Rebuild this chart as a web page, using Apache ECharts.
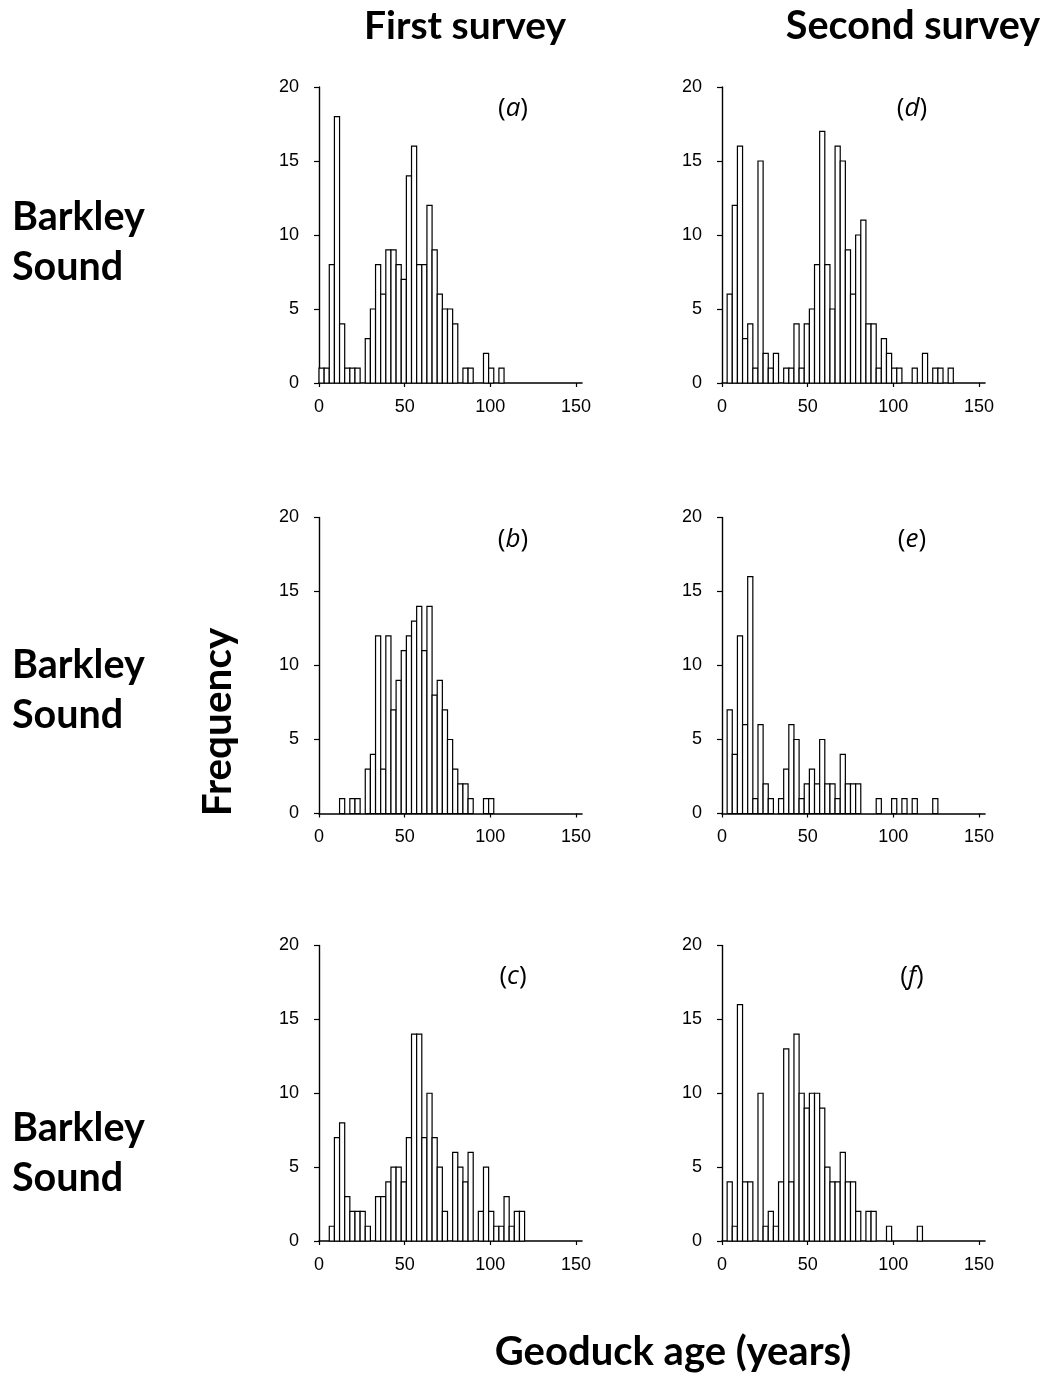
<!DOCTYPE html>
<html>
<head>
<meta charset="utf-8">
<script src="https://cdn.jsdelivr.net/npm/echarts@6/dist/echarts.min.js"></script>
<style>html,body{margin:0;padding:0;background:#fff}#c{width:1044px;height:1376px}</style>
</head>
<body>
<div id="c"></div>
<script>
// ---- data: counts per 3-year age bin, starting at age 0 ----
const binWidth = 3;
const xTicks = [0, 50, 100, 150];
const yTicks = [0, 5, 10, 15, 20];
const countsA = [1,1,8,18,4,1,1,1,0,3,5,8,6,9,9,8,7,14,16,8,8,12,9,6,5,5,4,0,1,1,0,0,2,1,0,1];
const countsB = [0,0,0,0,1,0,1,1,0,3,4,12,3,12,7,9,11,12,13,14,11,14,8,9,7,5,3,2,2,1,0,0,1,1];
const countsC = [0,0,1,7,8,3,2,2,2,1,0,3,3,4,5,5,4,7,14,14,7,10,7,5,2,0,6,5,4,6,0,2,5,2,1,1,3,1,2,2];
const countsD = [0,6,12,16,3,4,1,15,2,1,2,0,1,1,4,1,4,5,8,17,8,5,16,15,9,6,10,11,4,4,1,3,2,1,1,0,0,1,0,2,0,1,1,0,1];
const countsE = [0,7,4,12,6,16,1,6,2,1,0,1,3,6,5,1,2,3,2,5,2,2,1,4,2,2,2,0,0,0,1,0,0,1,0,1,0,1,0,0,0,1];
const countsF = [0,4,1,16,4,4,0,10,1,2,1,4,13,4,14,10,9,10,10,9,5,4,4,6,4,4,2,0,2,2,0,0,1,0,0,0,0,0,1];
const panelLetters = ['a','b','c','d','e','f'];
const panelCounts = [countsA, countsB, countsC, countsD, countsE, countsF];
const colTitles = ['First survey', 'Second survey'];
const rowTitle = 'Barkley\nSound';
const yName = 'Frequency';
const xName = 'Geoduck age (years)';

// ---- layout ----
const colLeft = [319, 722];
const colWidth = 263;
const rowTop = [87, 517.5, 945.5];
const rowHeight = [296, 296, 295.5];
const xMaxExt = 153.5;

const chart = echarts.init(document.getElementById('c'), null, {renderer: 'canvas'});
const grids = [], xAxes = [], yAxes = [], series = [], graphics = [];
const axisFont = 'Liberation Sans, Arial, sans-serif';
const boldFont = 'Lato, "Open Sans", sans-serif';

for (let i = 0; i < 6; i++) {
  const col = Math.floor(i / 3), row = i % 3;
  grids.push({left: colLeft[col], top: rowTop[row], width: colWidth, height: rowHeight[row]});
  xAxes.push({
    type: 'value', gridIndex: i, min: 0, max: xMaxExt,
    splitLine: {show: false},
    axisLine: {show: true, onZero: false, lineStyle: {color: '#000', width: 1.6}},
    axisTick: {show: true, length: 4, inside: false, customValues: xTicks, lineStyle: {color: '#000', width: 1.2}},
    axisLabel: {customValues: xTicks, color: '#000', fontSize: 18, fontFamily: axisFont, margin: 15}
  });
  yAxes.push({
    type: 'value', gridIndex: i, min: 0, max: 20, interval: 5,
    splitLine: {show: false},
    axisLine: {show: true, lineStyle: {color: '#000', width: 1.4}},
    axisTick: {show: true, length: 5, lineStyle: {color: '#000', width: 1.2}},
    axisLabel: {color: '#000', fontSize: 18, fontFamily: axisFont, margin: 20}
  });
  const data = [];
  panelCounts[i].forEach((c, k) => { if (c > 0) data.push([k * binWidth, (k + 1) * binWidth, c]); });
  series.push({
    type: 'custom', xAxisIndex: i, yAxisIndex: i, data: data, silent: true,
    encode: {x: [0, 1], y: 2},
    renderItem: function (params, api) {
      const p0 = api.coord([api.value(0), 0]);
      const p1 = api.coord([api.value(1), api.value(2)]);
      return {
        type: 'rect',
        shape: {x: p0[0], y: p1[1], width: p1[0] - p0[0], height: p0[1] - p1[1]},
        style: {fill: '#fff', stroke: '#000', lineWidth: 1.2}
      };
    }
  });
  // panel letter
  const lx = colLeft[col] + (col === 0 ? 194 : 190);
  const ly = rowTop[row] + (row === 2 ? 31 : 22);
  graphics.push({
    type: 'text', x: lx, y: ly,
    style: {
      text: '{n|(}{i|' + panelLetters[i] + '}{n|)}',
      align: 'center', verticalAlign: 'middle',
      rich: {
        n: {fontSize: 26, fontFamily: '"Open Sans", Lato, sans-serif', fill: '#000'},
        i: {fontSize: 26, fontStyle: 'italic', fontFamily: '"Open Sans", Lato, sans-serif', fill: '#000'}
      }
    }
  });
}

// column titles
graphics.push({type: 'text', x: 465, y: 26, style: {text: colTitles[0], align: 'center', verticalAlign: 'middle', fontSize: 39, fontWeight: 'bold', fontFamily: boldFont, fill: '#000'}});
graphics.push({type: 'text', x: 913, y: 26, style: {text: colTitles[1], align: 'center', verticalAlign: 'middle', fontSize: 39.5, fontWeight: 'bold', fontFamily: boldFont, fill: '#000'}});
// row titles
[242, 690, 1153].forEach(cy => {
  graphics.push({type: 'text', x: 12, y: cy, style: {text: rowTitle, align: 'left', verticalAlign: 'middle', fontSize: 39.5, lineHeight: 50, fontWeight: 'bold', fontFamily: boldFont, fill: '#000'}});
});
// y name
graphics.push({type: 'text', x: 218, y: 722, rotation: Math.PI / 2, style: {text: yName, align: 'center', verticalAlign: 'middle', fontSize: 40.5, fontWeight: 'bold', fontFamily: boldFont, fill: '#000'}});
// x name
graphics.push({type: 'text', x: 673, y: 1352, style: {text: xName, align: 'center', verticalAlign: 'middle', fontSize: 40, fontWeight: 'bold', fontFamily: boldFont, fill: '#000'}});

chart.setOption({
  backgroundColor: '#fff',
  animation: false,
  grid: grids, xAxis: xAxes, yAxis: yAxes, series: series,
  graphic: graphics
});
</script>
</body>
</html>
